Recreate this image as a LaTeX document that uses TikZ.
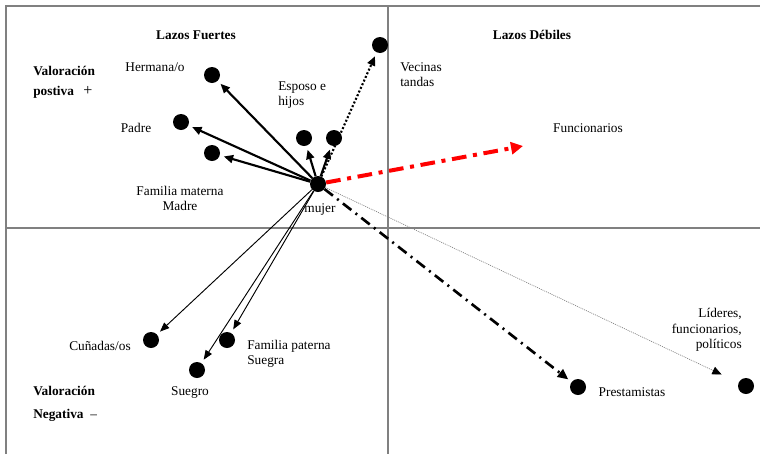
\documentclass[tikz,border=0pt]{standalone}
\usepackage{fontspec}
\setmainfont{Liberation Serif}
\usetikzlibrary{arrows.meta}
\begin{document}
\begin{tikzpicture}[x=0.75pt,y=-0.75pt,font=\fontsize{10}{11.5}\selectfont]
\tikzstyle{mydot} = [circle, minimum width=12pt, fill, inner sep=0pt]
\tikzstyle{myaxis} = [draw=gray, line width=1.1pt]
\tikzstyle{mytext} = [inner sep=0pt, align=center]
\tikzstyle{myhead} = [mytext, execute at begin node=\bfseries]
\tikzstyle{strong} = [-{Triangle[length=7pt,width=6pt]}, line width=1.6pt, shorten >=3pt]
\tikzstyle{weak} = [-{Triangle[length=7pt,width=5.5pt]}, line width=0.7pt, shorten >=3pt]
\useasboundingbox (0,0) rectangle (760,454);
% cuadrantes
\draw[myaxis] (6,454) -- (6,6) -- (760,6);
\draw[myaxis] (388,6) -- (388,454);
\draw[myaxis] (6,228) -- (760,228);
% nodos
	\node[mydot] (mujer) at (318,184) {};
	\node[mydot] (hermana) at (212,75) {};
	\node[mydot] (padre) at (181,122) {};
	\node[mydot] (materna) at (212,153) {};
	\node[mydot] (esposo) at (304,138) {};
	\node[mydot] (hijos) at (334,138) {};
	\node[mydot] (vecinas) at (380,45) {};
	\node[mydot] (cunadas) at (151,340) {};
	\node[mydot] (suegro) at (197,370) {};
	\node[mydot] (paterna) at (227,340) {};
	\node[mydot] (prestamistas) at (578,387) {};
	\node[mydot] (lideres) at (746,386) {};
	\coordinate (funcionarios) at (523,146);
% flechas
	\draw[strong] (mujer) -- (hermana);
	\draw[strong] (mujer) -- (padre);
	\draw[strong] (mujer) -- (materna);
	\draw[strong] (mujer) -- (esposo);
	\draw[strong] (mujer) -- (hijos);
	\draw[weak] (mujer) -- (cunadas);
	\draw[weak] (mujer) -- (suegro);
	\draw[weak] (mujer) -- (paterna);
	\draw[-{Triangle[length=7pt,width=6pt]}, line width=1.6pt, dash pattern=on 1.5pt off 1.5pt, shorten >=3pt] (mujer) -- (vecinas);
	\draw[-{Triangle[length=9pt,width=9pt]}, red, line width=3pt, dash pattern=on 11pt off 5pt on 3pt off 5pt] (mujer) -- (funcionarios);
	\draw[-{Triangle[length=8pt,width=7pt]}, line width=2pt, dash pattern=on 8pt off 4pt on 1.5pt off 4pt, shorten >=3pt] (mujer) -- (prestamistas);
	\draw[-{Triangle[length=7pt,width=6pt,color=black]}, draw=gray, line width=0.5pt, dash pattern=on 0.75pt off 0.75pt, shorten >=14pt] (mujer) -- (lideres);
% textos
	\node[myhead] (fuertes) at (196,35) {Lazos Fuertes};
	\node[myhead] (debiles) at (532,35) {Lazos Débiles};
	\node[myhead, anchor=west, align=left] (valpos) at (33,82.5) {Valoración\\[3.75pt]postiva\hspace{7pt}{\normalfont\large +}};
	\node[myhead, anchor=west, align=left] (valneg) at (33,404) {Valoración\\[6pt]Negativa\hspace{5pt}{\normalfont –}};
	\node[mytext] (thermana) at (155,67) {Hermana/o};
	\node[mytext, anchor=west, align=left] (tesposo) at (278,95) {Esposo e\\hijos};
	\node[mytext] (tpadre) at (136,128) {Padre};
	\node[mytext] (tmaterna) at (180,198.5) {Familia materna\\Madre};
	\node[mytext] (tmujer) at (320,210) {mujer};
	\node[mytext, anchor=west, align=left] (tvecinas) at (400,74.5) {Vecinas\\tandas};
	\node[mytext] (tfuncionarios) at (588,128) {Funcionarios};
	\node[mytext] (tcunadas) at (100,346) {Cuñadas/os};
	\node[mytext, anchor=west, align=left] (tpaterna) at (247,354) {Familia paterna\\Suegra};
	\node[mytext] (tsuegro) at (190,393) {Suegro};
	\node[mytext] (tprestamistas) at (632,392) {Prestamistas};
	\node[mytext, anchor=east, align=right] (tlideres) at (742,330) {Líderes,\\funcionarios,\\políticos};
\end{tikzpicture}
\end{document}
